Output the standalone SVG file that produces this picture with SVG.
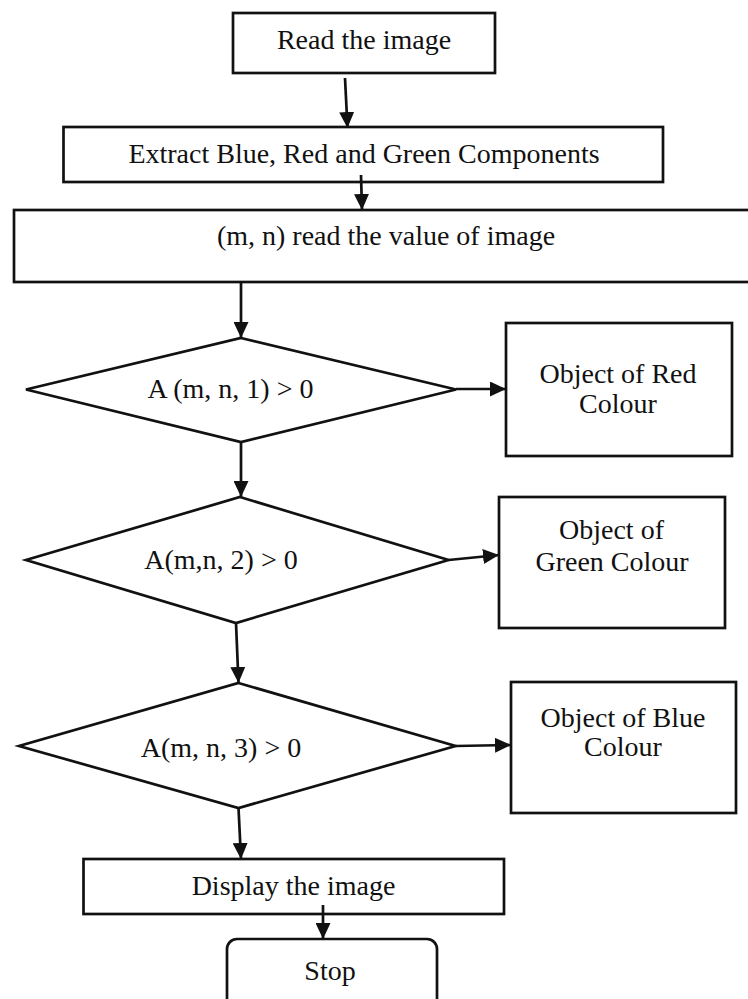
<svg xmlns="http://www.w3.org/2000/svg" width="748" height="999" viewBox="0 0 748 999">
<defs>
<style>
.n{fill:#fff;stroke:#111;stroke-width:2.7}
.t{font-family:"Liberation Serif","Times New Roman",serif;font-size:28px;fill:#111;text-anchor:middle}
.c{stroke:#111;stroke-width:2.7;fill:none}
</style>
<marker id="ah" viewBox="0 0 16 15" refX="16" refY="7.5" markerWidth="16" markerHeight="15" orient="auto" markerUnits="userSpaceOnUse">
<path d="M0,0 L16,7.5 L0,15 z" fill="#111"/>
</marker>
</defs>
<rect width="748" height="999" fill="#fff"/>
<g id="read"><rect class="n" x="233" y="13" width="262" height="60"/><text class="t" x="364" y="49">Read the image</text></g>
<g id="extract"><rect class="n" x="63.5" y="127" width="599.5" height="55"/><text class="t" x="364" y="163">Extract Blue, Red and Green Components</text></g>
<g id="readval"><rect class="n" x="14" y="210" width="750" height="72"/><text class="t" x="386" y="245">(m, n) read the value of image</text></g>
<g id="d1"><polygon class="n" points="241,338 456,389.5 241,442 26,389.5"/><text class="t" x="230.5" y="398">A (m, n, 1) &gt; 0</text></g>
<g id="red"><rect class="n" x="506" y="323" width="226" height="133"/><text class="t" x="618" y="383">Object of Red</text><text class="t" x="618" y="413">Colour</text></g>
<g id="d2"><polygon class="n" points="240,497 448.5,560 236,623 26,560"/><text class="t" x="221" y="569">A(m,n, 2) &gt; 0</text></g>
<g id="green"><rect class="n" x="499" y="497" width="226" height="131"/><text class="t" x="611.5" y="539">Object of</text><text class="t" x="612" y="571">Green Colour</text></g>
<g id="d3"><polygon class="n" points="238.5,683 455.6,746 238.5,808 19,746"/><text class="t" x="221" y="757">A(m, n, 3) &gt; 0</text></g>
<g id="blue"><rect class="n" x="511" y="682" width="225" height="131"/><text class="t" x="623" y="727">Object of Blue</text><text class="t" x="623" y="756">Colour</text></g>
<g id="display"><rect class="n" x="83.5" y="859" width="420.5" height="55"/><text class="t" x="293.5" y="895">Display the image</text></g>
<g id="stop"><rect class="n" x="227" y="939" width="210" height="80" rx="10"/><text class="t" x="330" y="980">Stop</text></g>
<g id="connectors">
<line class="c" x1="345" y1="78" x2="347.5" y2="128" marker-end="url(#ah)"/>
<line class="c" x1="361" y1="175" x2="362" y2="210" marker-end="url(#ah)"/>
<line class="c" x1="241" y1="282" x2="241" y2="338" marker-end="url(#ah)"/>
<line class="c" x1="456" y1="389" x2="506" y2="389" marker-end="url(#ah)"/>
<line class="c" x1="241" y1="442" x2="241" y2="497" marker-end="url(#ah)"/>
<line class="c" x1="448.5" y1="560" x2="499" y2="555" marker-end="url(#ah)"/>
<line class="c" x1="236" y1="623" x2="238.5" y2="683" marker-end="url(#ah)"/>
<line class="c" x1="455.6" y1="746" x2="511" y2="745" marker-end="url(#ah)"/>
<line class="c" x1="238.5" y1="808" x2="241" y2="859" marker-end="url(#ah)"/>
<line class="c" x1="323" y1="905" x2="323" y2="939" marker-end="url(#ah)"/>
</g>
</svg>
